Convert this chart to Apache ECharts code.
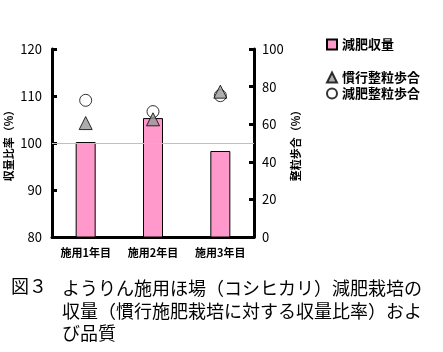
<!DOCTYPE html>
<html>
<head>
<meta charset="utf-8">
<script src="https://cdn.jsdelivr.net/npm/echarts@6/dist/echarts.min.js"></script>
<style>
html, body { margin: 0; padding: 0; background: #fff; }
#main { width: 443px; height: 352px; }
</style>
</head>
<body>
<div id="main"></div>
<script>
var categories = ['施用1年目', '施用2年目', '施用3年目'];
var yieldRatio = [100.2, 105.3, 98.3];       // 減肥収量 (左軸 %)
var convGrain = [60.6, 62.6, 77.3];          // 慣行整粒歩合 (右軸 %)
var reducedGrain = [72.7, 66.7, 75.2];       // 減肥整粒歩合 (右軸 %)
var leftTicks = [80, 90, 100, 110, 120];
var rightTicks = [0, 20, 40, 60, 80, 100];

var font = '"Noto Sans CJK JP", sans-serif';

var myChart = echarts.init(document.getElementById('main'));
var option = {
    animation: false,
    backgroundColor: '#fff',
    textStyle: { fontFamily: font },
    grid: { left: 52, right: 189, top: 49, bottom: 115 },
    legend: [
        {
            left: 321, top: 33,
            itemWidth: 10, itemHeight: 10, itemGap: 6,
            textStyle: { fontSize: 13, color: '#000', fontWeight: 'bold', fontFamily: font },
            data: [{ name: '減肥収量', icon: 'rect' }]
        },
        {
            left: 321, top: 66, orient: 'vertical',
            itemWidth: 10, itemHeight: 10, itemGap: 3,
            textStyle: { fontSize: 13, color: '#000', fontWeight: 'bold', fontFamily: font },
            data: ['慣行整粒歩合', '減肥整粒歩合']
        }
    ],
    xAxis: {
        type: 'category',
        data: categories,
        axisLine: { lineStyle: { color: '#000', width: 3 } },
        axisTick: { inside: true, length: 4, lineStyle: { color: '#000', width: 2 } },
        axisLabel: { color: '#000', fontSize: 11, margin: 10, fontWeight: 'bold' }
    },
    yAxis: [
        {
            type: 'value', min: leftTicks[0], max: leftTicks[leftTicks.length - 1], interval: 10,
            name: '収量比率（%）', nameLocation: 'middle', nameGap: 38, nameRotate: 90,
            nameTextStyle: { fontSize: 11, color: '#000', fontWeight: 'bold' },
            axisLine: { show: true, lineStyle: { color: '#000', width: 3 } },
            axisTick: { show: true, inside: true, length: 5, lineStyle: { color: '#000', width: 3 } },
            axisLabel: { color: '#000', fontSize: 13, margin: 10 },
            splitLine: { show: false }
        },
        {
            type: 'value', min: rightTicks[0], max: rightTicks[rightTicks.length - 1], interval: 20,
            name: '整粒歩合（%）', nameLocation: 'middle', nameGap: 36, nameRotate: 90,
            nameTextStyle: { fontSize: 11, color: '#000', fontWeight: 'bold' },
            axisLine: { show: true, lineStyle: { color: '#000', width: 3 } },
            axisTick: { show: true, inside: true, length: 5, lineStyle: { color: '#000', width: 3 } },
            axisLabel: { color: '#000', fontSize: 13, margin: 8 },
            splitLine: { show: false }
        }
    ],
    series: [
        {
            name: '減肥収量',
            type: 'bar',
            yAxisIndex: 0,
            barWidth: 20,
            data: yieldRatio,
            itemStyle: { color: '#ff99cc', borderColor: '#000', borderWidth: 1 },
            markLine: {
                silent: true, symbol: 'none', label: { show: false },
                lineStyle: { color: '#c0c0c0', type: 'solid', width: 1 },
                data: [{ yAxis: 100 }]
            }
        },
        {
            name: '慣行整粒歩合',
            type: 'scatter',
            yAxisIndex: 1,
            symbol: 'triangle',
            symbolSize: 13,
            data: convGrain,
            itemStyle: { color: '#999', borderColor: '#000', borderWidth: 1 },
            z: 3
        },
        {
            name: '減肥整粒歩合',
            type: 'scatter',
            yAxisIndex: 1,
            symbol: 'circle',
            symbolSize: 12,
            data: reducedGrain,
            itemStyle: { color: '#fff', borderColor: '#000', borderWidth: 1 },
            z: 2
        }
    ],
    graphic: [
        {
            type: 'text', left: 11, top: 277,
            style: { text: '図３', font: '18px ' + font, fill: '#000' }
        },
        {
            type: 'text', left: 62, top: 277,
            style: {
                text: 'ようりん施用ほ場（コシヒカリ）減肥栽培の\n収量（慣行施肥栽培に対する収量比率）およ\nび品質',
                font: '18px ' + font, fill: '#000', lineHeight: 22.5
            }
        }
    ]
};
myChart.setOption(option);
</script>
</body>
</html>
